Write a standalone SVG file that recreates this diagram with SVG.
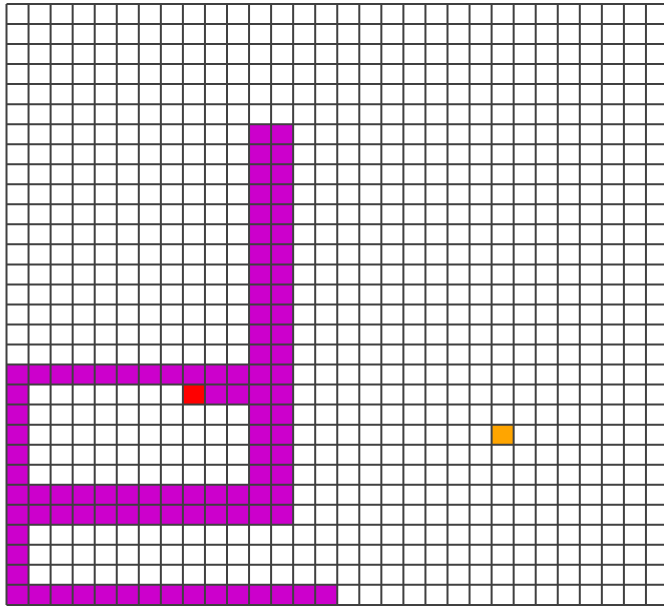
<svg xmlns="http://www.w3.org/2000/svg" width="664" height="606" viewBox="0 0 664 606">
<style>
.bg{fill:#ffffff}
.m{fill:#cc00cc}
.r{fill:#ff0000}
.o{fill:#ffa500}
.grid{fill:none;stroke:#404040;stroke-width:2}
</style>
<rect class="bg" x="0" y="0" width="664" height="606"/>
<g id="cells" transform="translate(6.5,4) scale(22.05,20.03)">
<g id="wall">
<rect class="m" x="11" y="6" width="2" height="20"/>
<rect class="m" x="0" y="18" width="13" height="1"/>
<rect class="m" x="9" y="19" width="2" height="1"/>
<rect class="m" x="0" y="18" width="1" height="12"/>
<rect class="m" x="0" y="24" width="13" height="2"/>
<rect class="m" x="0" y="29" width="15" height="1"/>
</g>
<g id="start"><rect class="r" x="8" y="19" width="1" height="1"/></g>
<g id="goal"><rect class="o" x="22" y="21" width="1" height="1"/></g>
<path class="grid" vector-effect="non-scaling-stroke" d="M0 0H30M0 1H30M0 2H30M0 3H30M0 4H30M0 5H30M0 6H30M0 7H30M0 8H30M0 9H30M0 10H30M0 11H30M0 12H30M0 13H30M0 14H30M0 15H30M0 16H30M0 17H30M0 18H30M0 19H30M0 20H30M0 21H30M0 22H30M0 23H30M0 24H30M0 25H30M0 26H30M0 27H30M0 28H30M0 29H30M0 30H30M0 0V30M1 0V30M2 0V30M3 0V30M4 0V30M5 0V30M6 0V30M7 0V30M8 0V30M9 0V30M10 0V30M11 0V30M12 0V30M13 0V30M14 0V30M15 0V30M16 0V30M17 0V30M18 0V30M19 0V30M20 0V30M21 0V30M22 0V30M23 0V30M24 0V30M25 0V30M26 0V30M27 0V30M28 0V30M29 0V30M30 0V30"/>
</g>
</svg>
